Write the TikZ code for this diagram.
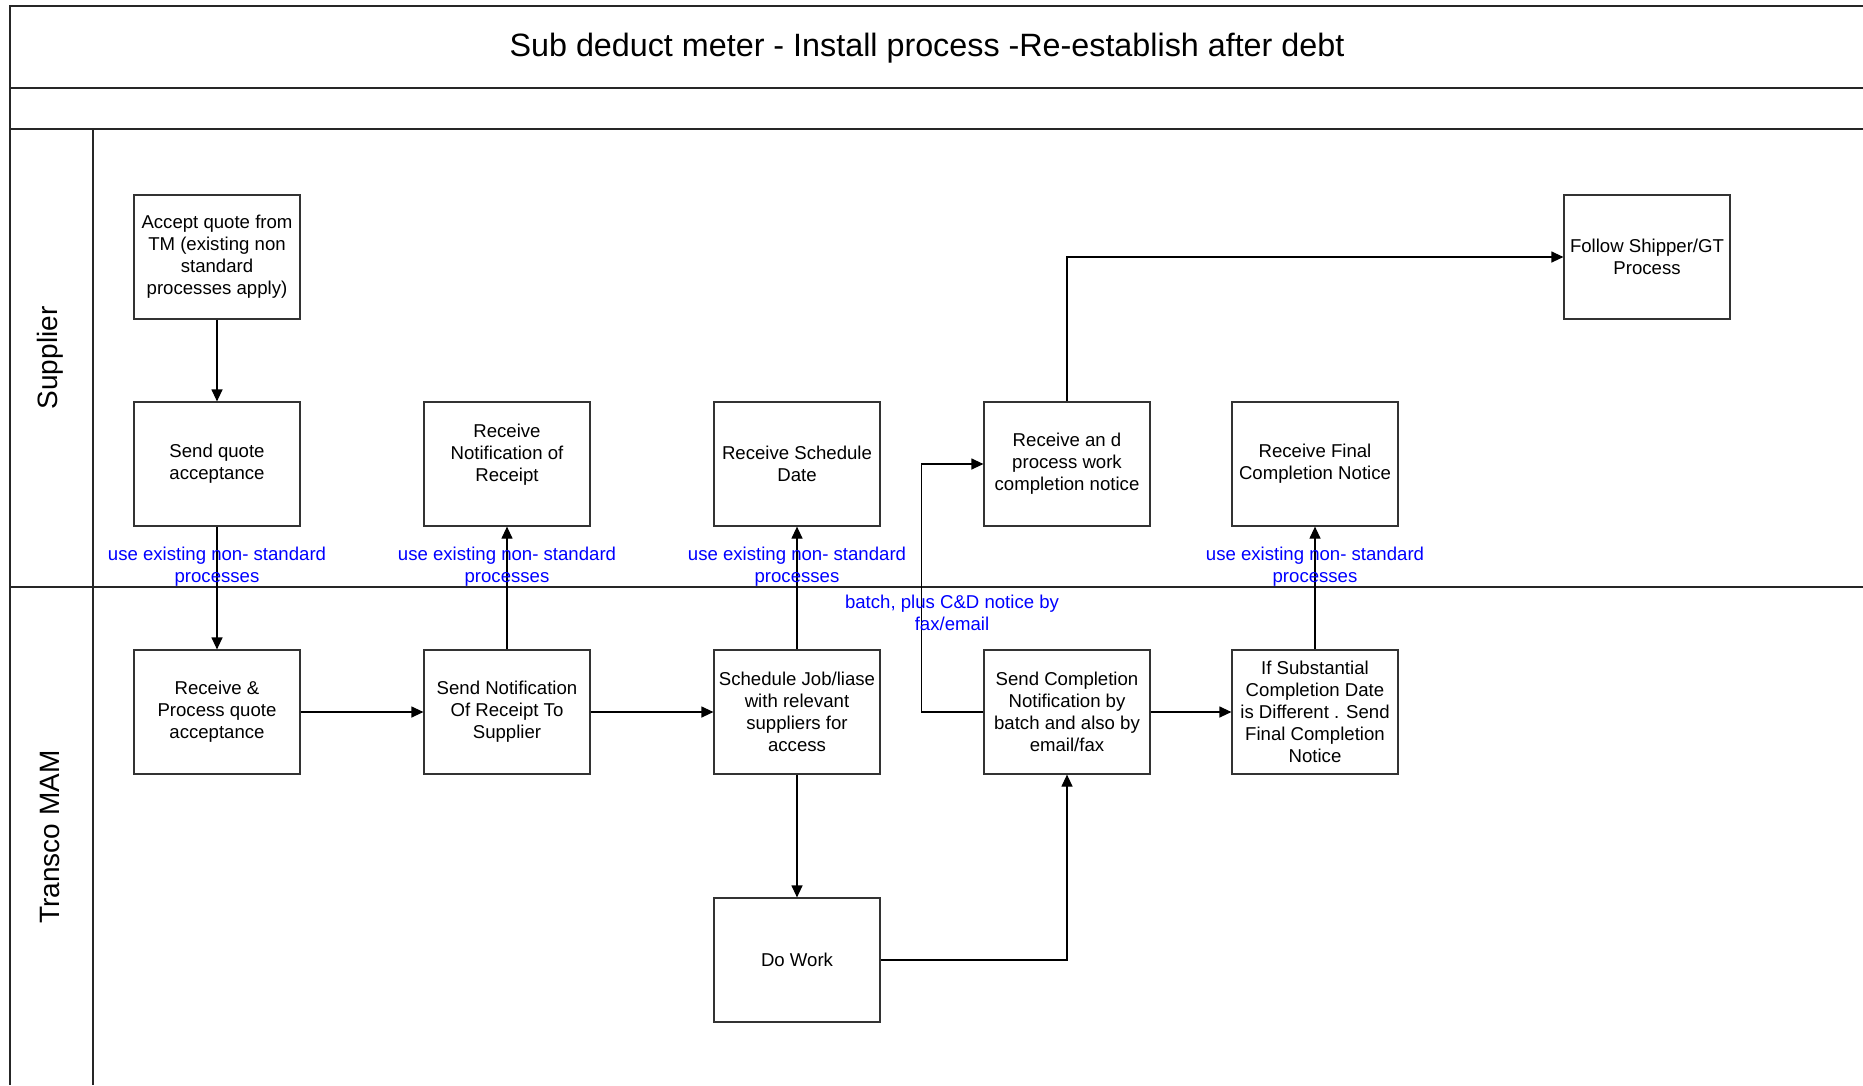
\documentclass[tikz,border=0pt]{standalone}
\usepackage{fontspec}
\setmainfont{Liberation Sans}
\usetikzlibrary{arrows.meta}
\begin{document}
\begin{tikzpicture}[x=1pt,y=-1pt,
  box/.style={draw=black!80, line width=1.2pt, minimum width=166pt, minimum height=124pt, align=center, inner sep=2pt, font=\fontsize{18.6}{22}\selectfont},
  note/.style={text=blue, align=center, font=\fontsize{18.6}{22}\selectfont, inner sep=0pt},
  arr/.style={draw=black, line width=1.2pt, -{Triangle[length=12pt,width=11pt]}},
  frame/.style={draw=black!85, line width=1.5pt},
  lane/.style={rotate=90, font=\fontsize{28}{32}\selectfont, inner sep=0pt}]
\useasboundingbox (0,0) rectangle (1863,1085);
% frame
\draw[frame] (1863,6) -- (10,6) -- (10,1085);
\draw[frame] (10,88) -- (1863,88);
\draw[frame] (10,129) -- (1863,129);
\draw[frame] (93,129) -- (93,1085);
\draw[frame] (10,587) -- (1863,587);
\node[font=\fontsize{32.3}{38}\selectfont, inner sep=0pt] (title) at (927,48.5) {Sub deduct meter - Install process -Re-establish after debt};
\node[lane] (lsup) at (50,358) {Supplier};
\node[lane] (ltm) at (50,837) {Transco MAM};
% boxes
\node[box] (aq) at (217,257) {Accept quote from\\TM (existing non\\standard\\processes apply)};
\node[box] (fs) at (1647,257) {Follow Shipper/GT\\Process};
\node[box] (sq) at (217,464) {Send quote\\acceptance};
\node[box] (rn) at (507,464) {Receive\\Notification of\\Receipt\\\mbox{}};
\node[box] (rs) at (797,464) {Receive Schedule\\Date};
\node[box] (rp) at (1067,464) {Receive an d\\process work\\completion notice};
\node[box] (rf) at (1315,464) {Receive Final\\Completion Notice};
\node[box] (rq) at (217,712) {Receive \&\\Process quote\\acceptance};
\node[box] (sn) at (507,712) {Send Notification\\Of Receipt To\\Supplier};
\node[box] (sj) at (797,712) {Schedule Job/liase\\with relevant\\suppliers for\\access};
\node[box] (sc) at (1067,712) {Send Completion\\Notification by\\batch and also by\\email/fax};
\node[box] (is) at (1315,712) {If Substantial\\Completion Date\\is Different . Send\\Final Completion\\Notice};
\node[box] (dw) at (797,960) {Do Work};
% connectors
\draw[arr] (aq) -- (sq);
\draw[arr] (sq) -- (rq);
\draw[arr] (rq) -- (sn);
\draw[arr] (sn) -- (rn);
\draw[arr] (sn) -- (sj);
\draw[arr] (sj) -- (rs);
\draw[arr] (sj) -- (dw);
\draw[arr] (dw.east) -| (sc.south);
\draw[arr] (sc.west) -- ++(-62,0) |- (rp.west);
\draw[arr] (rp.north) |- (fs.west);
\draw[arr] (sc) -- (is);
\draw[arr] (is) -- (rf);
% notes
\node[note] (n1) at (217,566.5) {use existing non- standard\\processes};
\node[note] (n2) at (507,566.5) {use existing non- standard\\processes};
\node[note] (n3) at (797,566.5) {use existing non- standard\\processes};
\node[note] (n4) at (1315,566.5) {use existing non- standard\\processes};
\node[note] (n5) at (952,612.5) {batch, plus C\&D notice by\\fax/email};
\end{tikzpicture}
\end{document}
